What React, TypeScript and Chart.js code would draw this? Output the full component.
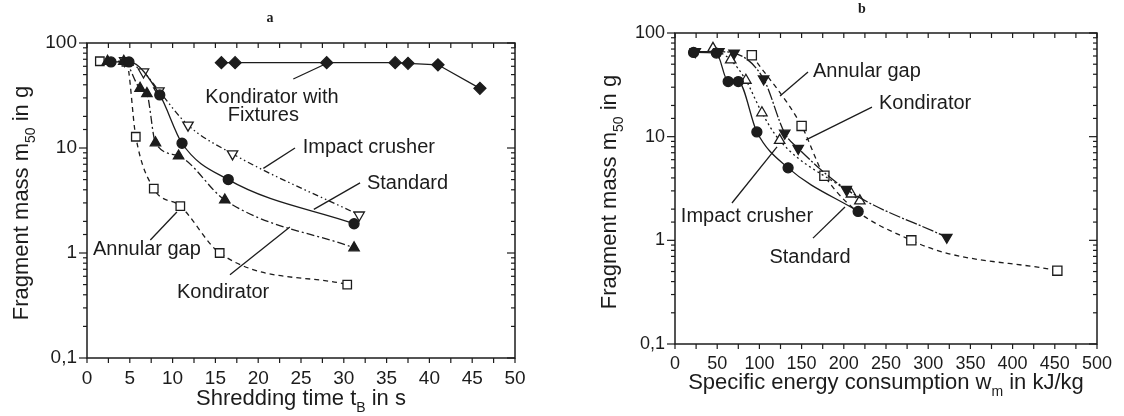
import React, { useEffect, useRef } from "react";
import { Chart, registerables } from "chart.js";
Chart.register(...registerables);

const FONT = '"Liberation Sans", Arial, Helvetica, sans-serif';
const INK = "#1c1c1c";

// ---------- Panel a: shredding time t_B (s) vs fragment mass m50 (g)
const aTimeAnnular = [1.5, 4.6, 5.7, 7.8, 10.9, 15.5, 30.4];
const aMassAnnular = [67, 66, 12.8, 4.1, 2.8, 1.0, 0.5];
const aTimeImpact = [4.4, 6.6, 8.4, 11.8, 17.0, 31.8];
const aMassImpact = [68, 53, 35, 16.5, 8.8, 2.3];
const aTimeStandard = [2.8, 4.9, 8.5, 11.1, 16.5, 31.2];
const aMassStandard = [66, 66, 32, 11.1, 5.0, 1.9];
const aTimeKondirator = [2.4, 4.3, 6.2, 7.0, 8.0, 10.7, 16.1, 31.2];
const aMassKondirator = [67, 67, 37, 33, 11.2, 8.4, 3.2, 1.12];
const aTimeFixtures = [15.7, 17.3, 28.0, 36.0, 37.5, 41.0, 45.9];
const aMassFixtures = [65, 65, 65, 65, 64, 62, 37];

// ---------- Panel b: specific energy w_m (kJ/kg) vs fragment mass m50 (g)
const bEnergyStandard = [22, 49, 63, 75, 97, 134, 217];
const bMassStandard = [65, 64, 34, 34, 11.1, 5.0, 1.9];
const bEnergyImpact = [45, 66, 84, 103, 124, 209, 219];
const bMassImpact = [71, 55, 35, 17, 9.2, 2.8, 2.4];
const bEnergyKondirator = [24, 52, 70, 105, 130, 146, 203, 322];
const bMassKondirator = [66, 66, 64, 36, 10.8, 7.7, 3.1, 1.07];
const bEnergyAnnular = [91, 150, 177, 280, 453];
const bMassAnnular = [61, 12.7, 4.2, 1.0, 0.51];

// axis ranges / ticks
const aXRange = [0, 50];
const aXStep = 2.5;
const aXLabelEvery = 5;
const bXRange = [0, 500];
const bXStep = 25;
const bXLabelEvery = 50;
const yRange = [0.1, 100];

// callout labels (data coordinates)
type Note = { text: string; x: number; y: number; align: CanvasTextAlign };
type Leader = [number, number, number, number];
const aNotes: Note[] = [
  { text: "Kondirator with", x: 21.6, y: 30.6, align: "center" },
  { text: "Fixtures", x: 20.6, y: 20.6, align: "center" },
  { text: "Impact crusher", x: 25.2, y: 10.2, align: "left" },
  { text: "Standard", x: 32.7, y: 4.64, align: "left" },
  { text: "Annular gap", x: 7.0, y: 1.07, align: "center" },
  { text: "Kondirator", x: 15.9, y: 0.425, align: "center" },
];
const aLeaders: Leader[] = [
  [24.1, 45.4, 27.6, 61.7],
  [24.3, 10.0, 20.6, 6.4],
  [31.9, 4.65, 26.5, 2.6],
  [7.4, 1.33, 10.5, 2.46],
  [16.7, 0.62, 23.7, 1.77],
];
const bNotes: Note[] = [
  { text: "Annular gap", x: 163.5, y: 43, align: "left" },
  { text: "Kondirator", x: 241.7, y: 21.1, align: "left" },
  { text: "Impact crusher", x: 85.3, y: 1.68, align: "center" },
  { text: "Standard", x: 160, y: 0.677, align: "center" },
];
const bLeaders: Leader[] = [
  [157.6, 42.0, 124.4, 24.7],
  [233.4, 19.3, 155.2, 9.3],
  [67.5, 2.29, 120.9, 7.96],
  [163.5, 1.05, 201.4, 2.1],
];

type Seg = { t: string; sub?: boolean };
const aXTitle: Seg[] = [{ t: "Shredding time t" }, { t: "B", sub: true }, { t: " in s" }];
const bXTitle: Seg[] = [{ t: "Specific energy consumption w" }, { t: "m", sub: true }, { t: " in kJ/kg" }];
const yTitle: Seg[] = [{ t: "Fragment mass m" }, { t: "50", sub: true }, { t: " in g" }];

const DASHED = [5, 4];
const DASH_DOT = [8, 3, 2, 3];
const DASH_DOT_DOT = [6, 3, 1.5, 3, 1.5, 3];
const DOTTED = [2, 3];

function isDecade(v: number) {
  const l = Math.log10(v);
  return Math.abs(l - Math.round(l)) < 1e-6;
}
function fmtDecade(v: number) {
  if (v >= 1) return String(Math.round(v));
  return String(Number(v.toPrecision(3))).replace(".", ",");
}

function ds(xs: number[], ys: number[], o: { dash?: number[]; style: string; rot?: number; r: number; filled: boolean; smooth: boolean }) {
  return {
    data: xs.map((x, i) => ({ x, y: ys[i] })),
    showLine: true,
    borderColor: INK,
    borderWidth: 1.3,
    borderDash: o.dash || [],
    pointStyle: o.style,
    pointRotation: o.rot || 0,
    pointRadius: o.r,
    pointBackgroundColor: o.filled ? INK : "#ffffff",
    pointBorderColor: INK,
    pointBorderWidth: 1.3,
    cubicInterpolationMode: o.smooth ? "monotone" : "default",
    tension: 0,
  };
}

function drawRich(ctx: CanvasRenderingContext2D, segs: Seg[], x: number, y: number, size: number, rotate: boolean) {
  ctx.save();
  ctx.translate(x, y);
  if (rotate) ctx.rotate(-Math.PI / 2);
  const main = `${size}px ${FONT}`;
  const sub = `${Math.round(size * 0.62)}px ${FONT}`;
  let total = 0;
  segs.forEach((s) => {
    ctx.font = s.sub ? sub : main;
    total += ctx.measureText(s.t).width;
  });
  let cx = -total / 2;
  ctx.textBaseline = "middle";
  ctx.textAlign = "left";
  ctx.fillStyle = INK;
  segs.forEach((s) => {
    ctx.font = s.sub ? sub : main;
    ctx.fillText(s.t, cx, s.sub ? size * 0.42 : 0);
    cx += ctx.measureText(s.t).width;
  });
  ctx.restore();
}

type PanelCfg = {
  letter: string;
  letterPos: [number, number];
  xTitle: Seg[];
  xTitlePos: [number, number];
  yTitlePos: [number, number];
  notes: Note[];
  leaders: Leader[];
};

const panelPlugin = {
  id: "panelDecor",
  afterDraw(chart: any, _args: any, cfg: PanelCfg) {
    const { ctx, chartArea: a, scales } = chart;
    const xs = scales.x;
    const ys = scales.y;
    ctx.save();
    ctx.strokeStyle = INK;
    ctx.lineWidth = 1.5;
    ctx.setLineDash([]);
    ctx.strokeRect(a.left, a.top, a.right - a.left, a.bottom - a.top);
    ctx.lineWidth = 1.2;
    const line = (x1: number, y1: number, x2: number, y2: number) => {
      ctx.beginPath();
      ctx.moveTo(x1, y1);
      ctx.lineTo(x2, y2);
      ctx.stroke();
    };
    xs.ticks.forEach((t: any) => {
      const px = xs.getPixelForValue(t.value);
      line(px, a.bottom, px, a.bottom + 5);
      line(px, a.top, px, a.top + 5);
    });
    ys.ticks.forEach((t: any) => {
      const py = ys.getPixelForValue(t.value);
      const len = isDecade(t.value) ? 8 : 4;
      line(a.left, py, a.left - len, py);
      line(a.right, py, a.right - len, py);
    });
    // leaders
    ctx.lineWidth = 1.3;
    cfg.leaders.forEach(([x1, y1, x2, y2]) => {
      line(xs.getPixelForValue(x1), ys.getPixelForValue(y1), xs.getPixelForValue(x2), ys.getPixelForValue(y2));
    });
    // notes
    ctx.fillStyle = INK;
    ctx.font = `20px ${FONT}`;
    ctx.textBaseline = "middle";
    cfg.notes.forEach((n) => {
      ctx.textAlign = n.align;
      ctx.fillText(n.text, xs.getPixelForValue(n.x), ys.getPixelForValue(n.y));
    });
    ctx.restore();
    drawRich(ctx, cfg.xTitle, cfg.xTitlePos[0], cfg.xTitlePos[1], 22, false);
    drawRich(ctx, yTitle, cfg.yTitlePos[0], cfg.yTitlePos[1], 22, true);
    ctx.save();
    ctx.fillStyle = INK;
    ctx.font = `bold 14px "Liberation Serif", "DejaVu Serif", serif`;
    ctx.textAlign = "center";
    ctx.textBaseline = "middle";
    ctx.fillText(cfg.letter, cfg.letterPos[0], cfg.letterPos[1]);
    ctx.restore();
  },
};

function makeChart(
  canvas: HTMLCanvasElement,
  datasets: any[],
  xRange: number[],
  xStep: number,
  xLabelEvery: number,
  box: { top: number; right: number; yW: number; xH: number },
  cfg: PanelCfg,
  tickSize: number
) {
  return new Chart(canvas, {
    type: "scatter",
    data: { datasets },
    options: {
      animation: false,
      responsive: false,
      devicePixelRatio: 1,
      layout: { padding: { top: box.top, right: box.right, left: 0, bottom: 0 } },
      plugins: { legend: { display: false }, tooltip: { enabled: false }, panelDecor: cfg } as any,
      elements: { line: { fill: false } },
      scales: {
        x: {
          type: "linear",
          min: xRange[0],
          max: xRange[1],
          afterFit: (s: any) => {
            s.height = box.xH;
          },
          grid: { display: false, drawTicks: true, tickLength: 5 },
          border: { display: false },
          ticks: {
            stepSize: xStep,
            autoSkip: false,
            maxTicksLimit: 200,
            maxRotation: 0,
            padding: 4,
            color: INK,
            font: { family: FONT, size: tickSize },
            callback: (v: any) => (Math.abs(v % xLabelEvery) < 1e-9 ? String(v) : ""),
          },
        },
        y: {
          type: "logarithmic",
          min: yRange[0],
          max: yRange[1],
          afterFit: (s: any) => {
            s.width = box.yW;
          },
          grid: { display: false, drawTicks: true, tickLength: 8 },
          border: { display: false },
          ticks: {
            autoSkip: false,
            padding: 2,
            color: INK,
            font: { family: FONT, size: tickSize },
            callback: (v: any) => (isDecade(Number(v)) ? fmtDecade(Number(v)) : ""),
          },
        },
      },
    } as any,
    plugins: [panelPlugin as any],
  });
}

export default function App() {
  const leftRef = useRef<HTMLCanvasElement>(null);
  const rightRef = useRef<HTMLCanvasElement>(null);

  useEffect(() => {
    const aSets = [
      ds(aTimeFixtures, aMassFixtures, { style: "rectRot", r: 6, filled: true, smooth: false }),
      ds(aTimeStandard, aMassStandard, { style: "circle", r: 5, filled: true, smooth: true }),
      ds(aTimeKondirator, aMassKondirator, { dash: DASH_DOT, style: "triangle", r: 6, filled: true, smooth: true }),
      ds(aTimeImpact, aMassImpact, { dash: DASH_DOT_DOT, style: "triangle", rot: 180, r: 6, filled: false, smooth: true }),
      ds(aTimeAnnular, aMassAnnular, { dash: DASHED, style: "rect", r: 6, filled: false, smooth: true }),
    ];
    const bSets = [
      ds(bEnergyStandard, bMassStandard, { style: "circle", r: 5, filled: true, smooth: true }),
      ds(bEnergyKondirator, bMassKondirator, { dash: [12, 2, 2, 2], style: "triangle", rot: 180, r: 6, filled: true, smooth: true }),
      ds(bEnergyImpact, bMassImpact, { dash: DOTTED, style: "triangle", r: 6, filled: false, smooth: true }),
      ds(bEnergyAnnular, bMassAnnular, { dash: DASHED, style: "rect", r: 6.5, filled: false, smooth: true }),
    ];
    const c1 = makeChart(
      leftRef.current!,
      aSets,
      aXRange,
      aXStep,
      aXLabelEvery,
      { top: 43, right: 45, yW: 87, xH: 58 },
      {
        letter: "a",
        letterPos: [270, 18],
        xTitle: aXTitle,
        xTitlePos: [301, 399],
        yTitlePos: [22, 203],
        notes: aNotes,
        leaders: aLeaders,
      },
      19
    );
    const c2 = makeChart(
      rightRef.current!,
      bSets,
      bXRange,
      bXStep,
      bXLabelEvery,
      { top: 33, right: 27, yW: 115, xH: 72 },
      {
        letter: "b",
        letterPos: [302, 9],
        xTitle: bXTitle,
        xTitlePos: [326, 383],
        yTitlePos: [50, 192],
        notes: bNotes,
        leaders: bLeaders,
      },
      18
    );
    return () => {
      c1.destroy();
      c2.destroy();
    };
  }, []);

  return (
    <div style={{ position: "absolute", left: 0, top: 0, width: 1124, height: 416, background: "#ffffff", overflow: "hidden" }}>
      <canvas ref={leftRef} width={560} height={416} style={{ position: "absolute", left: 0, top: 0 }} />
      <canvas ref={rightRef} width={564} height={416} style={{ position: "absolute", left: 560, top: 0 }} />
    </div>
  );
}
